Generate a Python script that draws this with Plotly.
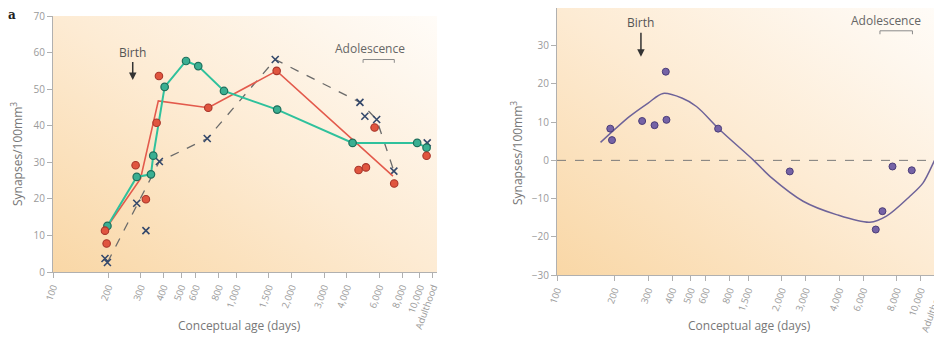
import base64
import numpy as np
import plotly.graph_objects as go

# ---------------- data (left panel) ----------------
green_days = [198, 286, 342, 352, 406, 531, 619, 855, 1667, 4295, 9660, 10870]
green_syn = [12.6, 26.0, 26.7, 31.8, 50.6, 57.7, 56.3, 49.5, 44.4, 35.3, 35.3, 34.0]

red_line_days = [192, 300, 375, 702, 1656, 7130]
red_line_syn = [11.5, 25.5, 46.8, 44.9, 55.0, 26.2]

red_dot_days = [192, 196, 282, 321, 367, 378, 702, 1656, 4630, 5080, 5660, 7240, 10870]
red_dot_syn = [11.3, 7.8, 29.2, 19.9, 40.8, 53.6, 44.9, 55.0, 27.9, 28.6, 39.5, 24.2, 31.8]

cross_days = [192, 198, 286, 321, 380, 693, 1627, 4710, 5010, 5810, 7210, 10960]
cross_syn = [3.7, 2.6, 18.8, 11.3, 30.2, 36.5, 58.1, 46.4, 42.6, 41.7, 27.6, 35.3]

dash_days = [198, 380, 693, 1627, 4710, 5810, 7210]
dash_syn = [2.6, 30.2, 36.5, 58.1, 46.4, 41.7, 27.6]

# ---------------- data (right panel) ----------------
diff_days = [190, 194, 279, 324, 371, 374, 697, 1653, 4660, 5050, 5700, 7190, 9880]
diff_syn = [8.3, 5.3, 10.3, 9.2, 23.2, 10.6, 8.3, -2.9, -18.1, -13.3, -1.6, -2.6, 1.9]

fit_days = [169, 240, 300, 359, 450, 537, 711, 1070, 1330, 1941, 2900, 4340, 5300, 7030, 8240, 9690, 9900]
fit_syn = [4.7, 11.5, 15.0, 17.5, 16.3, 14.1, 8.0, 0.0, -4.6, -10.7, -14.2, -16.2, -14.6, -9.4, -5.9, 1.0, 1.6]

# ---------------- tick labels ----------------
left_tickvals = [100, 200, 300, 400, 500, 600, 800, 1000, 1500, 2000, 3000, 4000, 6000, 8000, 10000, 11770]
left_ticktext = ["100", "200", "300", "400", "500", "600", "800", "1,000", "1,500", "2,000",
                 "3,000", "4,000", "6,000", "8,000", "10,000", "Adulthood"]
right_tickvals = [100, 200, 300, 400, 500, 600, 800, 1000, 1500, 2000, 3000, 4000, 6000, 8000, 10000]
right_ticktext = ["100", "200", "300", "400", "500", "600", "800", "1,500", "2,000",
                  "3,000", "4,000", "6,000", "8,000", "10,000", "Adulthood"]
left_yticks = [0, 10, 20, 30, 40, 50, 60, 70]
right_yticks = [-30, -20, -10, 0, 10, 20, 30]

birth_day = 272
adolescence = [4900, 7250]

FONT = "Open Sans"
TICK_COL = "#9a9a9a"
AX_COL = "#b0b0b0"

# gradient background
svg = ("<svg xmlns='http://www.w3.org/2000/svg' width='400' height='260' viewBox='0 0 400 260' "
       "preserveAspectRatio='none'><defs><linearGradient id='g' x1='0' y1='1' x2='1' y2='0'>"
       "<stop offset='0' stop-color='#f9d7a6'/><stop offset='0.5' stop-color='#fdebd3'/>"
       "<stop offset='0.85' stop-color='#fef7ee'/><stop offset='1' stop-color='#fffcf8'/>"
       "</linearGradient></defs><rect width='400' height='260' fill='url(#g)'/></svg>")
bg_src = "data:image/svg+xml;base64," + base64.b64encode(svg.encode()).decode()

fig = go.Figure()

# left panel traces
fig.add_trace(go.Scatter(x=dash_days, y=dash_syn, mode="lines", xaxis="x", yaxis="y",
                         line=dict(color="#6a6a6a", width=1.3, dash="dash"), hoverinfo="skip"))
fig.add_trace(go.Scatter(x=cross_days, y=cross_syn, mode="markers", xaxis="x", yaxis="y",
                         marker=dict(symbol="x-thin-open", size=7, color="#34486b",
                                     line=dict(width=1.6, color="#34486b"))))
fig.add_trace(go.Scatter(x=red_line_days, y=red_line_syn, mode="lines", xaxis="x", yaxis="y",
                         line=dict(color="#e35a4c", width=1.6)))
fig.add_trace(go.Scatter(x=green_days, y=green_syn, mode="lines+markers", xaxis="x", yaxis="y",
                         line=dict(color="#2fc19c", width=2),
                         marker=dict(size=7.5, color="#3aaf92", line=dict(width=1.2, color="#1e6f5c"))))
fig.add_trace(go.Scatter(x=red_dot_days, y=red_dot_syn, mode="markers", xaxis="x", yaxis="y",
                         marker=dict(size=7.5, color="#e0553f", line=dict(width=1.1, color="#a8352a"))))

# right panel traces
fig.add_trace(go.Scatter(x=fit_days, y=fit_syn, mode="lines", xaxis="x2", yaxis="y2",
                         line=dict(color="#6e6399", width=1.5, shape="spline", smoothing=0.9)))
fig.add_trace(go.Scatter(x=diff_days, y=diff_syn, mode="markers", xaxis="x2", yaxis="y2",
                         cliponaxis=False,
                         marker=dict(size=7, color="#7563a6", line=dict(width=1, color="#4a3c78"))))

W, H = 942, 341
OX, OY = 8, 8   # page body margin offset


def xd(a, b):
    return [(a - OX) / W, min(1.0, (b - OX) / W)]


def yd(top, bot):
    return [(H - (bot - OY)) / H, min(1.0, (H - (top - OY)) / H)]


def px(x):
    return (x - OX) / W


def py(y):
    return (H - (y - OY)) / H


common_x = dict(type="log", showgrid=False, zeroline=False, showline=True, linecolor=AX_COL,
                linewidth=1, ticks="outside", ticklen=5, tickcolor=AX_COL, tickangle=-70,
                tickfont=dict(family=FONT, size=9.5, color=TICK_COL), tickmode="array",
                automargin=False, ticklabeloverflow="allow")
common_y = dict(showgrid=False, zeroline=False, showline=True, linecolor=AX_COL, linewidth=1,
                ticks="outside", ticklen=5, tickcolor=AX_COL,
                tickfont=dict(family=FONT, size=10, color=TICK_COL), tickmode="array",
                automargin=False)

fig.update_layout(
    template="none",
    width=W, height=H, autosize=False, showlegend=False,
    margin=dict(l=0, r=0, t=0, b=0, pad=0),
    paper_bgcolor="white", plot_bgcolor="rgba(0,0,0,0)",
    font=dict(family=FONT),
    xaxis=dict(common_x, domain=xd(53, 437), range=[2, np.log10(12390)],
               tickvals=left_tickvals, ticktext=left_ticktext, anchor="y"),
    yaxis=dict(common_y, domain=yd(16, 272), range=[0, 70], tickvals=left_yticks, anchor="x"),
    xaxis2=dict(common_x, domain=xd(557, 942), range=[2, 4.015],
                tickvals=right_tickvals, ticktext=right_ticktext, anchor="y2"),
    yaxis2=dict(common_y, domain=yd(8, 275), range=[-30, 39.87], tickvals=right_yticks, anchor="x2"),
    images=[
        dict(source=bg_src, xref="x domain", yref="y domain", x=0, y=1, sizex=1, sizey=1,
             xanchor="left", yanchor="top", sizing="stretch", layer="below"),
        dict(source=bg_src, xref="x2 domain", yref="y2 domain", x=0, y=1, sizex=1, sizey=1,
             xanchor="left", yanchor="top", sizing="stretch", layer="below"),
    ],
)

# shapes: zero line and adolescence brackets
shapes = [
    dict(type="line", xref="x2 domain", yref="y2", x0=0, x1=1, y0=0, y1=0,
         line=dict(color="#7a7a7a", width=1, dash="dash")),
]
for xr, yr, yb, tick in [("x", "y", 58.1, 0.9), ("x2", "y2", 33.9, 0.9)]:
    a, b = adolescence
    shapes += [
        dict(type="line", xref=xr, yref=yr, x0=a, x1=b, y0=yb, y1=yb, line=dict(color="#8a8a8a", width=1)),
        dict(type="line", xref=xr, yref=yr, x0=a, x1=a, y0=yb, y1=yb - tick, line=dict(color="#8a8a8a", width=1)),
        dict(type="line", xref=xr, yref=yr, x0=b, x1=b, y0=yb, y1=yb - tick, line=dict(color="#8a8a8a", width=1)),
    ]
fig.update_layout(shapes=shapes)

ann = []
# Birth arrows
ann.append(dict(x=np.log10(birth_day), y=52.5, xref="x", yref="y", text="Birth", showarrow=True,
                ax=0, ay=-28, arrowhead=2, arrowsize=1, arrowwidth=1.5, arrowcolor="#333",
                font=dict(family=FONT, size=12, color="#555")))
ann.append(dict(x=np.log10(birth_day + 3), y=27.1, xref="x2", yref="y2", text="Birth", showarrow=True,
                ax=0, ay=-34, arrowhead=2, arrowsize=1, arrowwidth=1.5, arrowcolor="#333",
                font=dict(family=FONT, size=12, color="#555")))
# Adolescence labels
ann.append(dict(x=np.log10(5340), y=61.2, xref="x", yref="y", text="Adolescence", showarrow=False,
                xanchor="center", yanchor="middle", font=dict(family=FONT, size=12, color="#666")))
ann.append(dict(x=np.log10(5300), y=36.7, xref="x2", yref="y2", text="Adolescence", showarrow=False,
                xanchor="center", yanchor="middle", font=dict(family=FONT, size=12, color="#666")))
# axis titles
for xc, yc in [(239, 325), (749, 325)]:
    ann.append(dict(x=px(xc), y=py(yc), xref="paper", yref="paper", text="Conceptual age (days)",
                    xanchor="center", yanchor="middle",
                    showarrow=False, font=dict(family=FONT, size=12, color="#777")))
for xc, yc in [(17, 154), (517, 153)]:
    ann.append(dict(x=px(xc), y=py(yc), xref="paper", yref="paper", text="Synapses/100mm<sup>3</sup>",
                    xanchor="center", yanchor="middle",
                    textangle=-90, showarrow=False, font=dict(family=FONT, size=12, color="#777")))
# panel letter
ann.append(dict(x=px(12), y=py(15), xref="paper", yref="paper", text="<b>a</b>", showarrow=False,
                xanchor="center", yanchor="middle",
                font=dict(family="DejaVu Serif", size=12, color="#222")))
fig.update_layout(annotations=ann)

fig.write_html("out.html")
